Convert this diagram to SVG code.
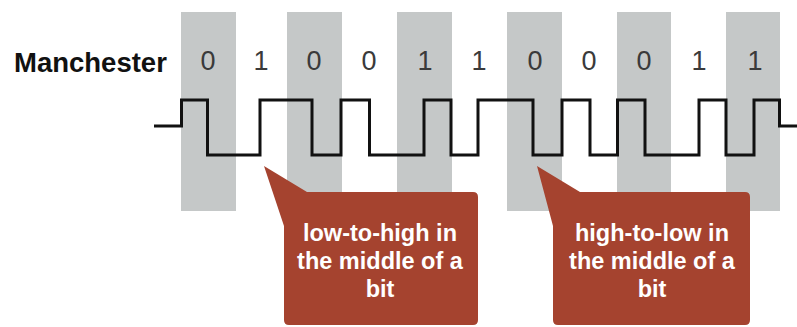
<svg xmlns="http://www.w3.org/2000/svg" width="797" height="327" viewBox="0 0 797 327">
<style>
.col{fill:#c5c8c8}
.bit{font-family:"Liberation Sans",Arial,sans-serif;font-size:27px;fill:#3a3a3a;text-anchor:middle}
.title{font-family:"Liberation Sans",Arial,sans-serif;font-size:27.5px;font-weight:bold;fill:#111}
.sig{fill:none;stroke:#111;stroke-width:3;stroke-linejoin:miter}
.callout{fill:#a5432f}
.ct{font-family:"Liberation Sans",Arial,sans-serif;font-size:23.5px;font-weight:bold;fill:#fff;text-anchor:middle}
</style>
<rect width="797" height="327" fill="#fff"/>
<g id="columns">
<rect class="col" x="181" y="12" width="55" height="199"/>
<rect class="col" x="287" y="12" width="55" height="199"/>
<rect class="col" x="397" y="12" width="55" height="199"/>
<rect class="col" x="507" y="12" width="55" height="199"/>
<rect class="col" x="617" y="12" width="54" height="199"/>
<rect class="col" x="726" y="12" width="54" height="199"/>
</g>
<g id="title"><text class="title" x="14" y="72">Manchester</text></g>
<g id="bits">
<text class="bit" x="208" y="70">0</text>
<text class="bit" x="261" y="70">1</text>
<text class="bit" x="314" y="70">0</text>
<text class="bit" x="369" y="70">0</text>
<text class="bit" x="425" y="70">1</text>
<text class="bit" x="479" y="70">1</text>
<text class="bit" x="535" y="70">0</text>
<text class="bit" x="589" y="70">0</text>
<text class="bit" x="644" y="70">0</text>
<text class="bit" x="699" y="70">1</text>
<text class="bit" x="755" y="70">1</text>
</g>
<g id="connectors">
<path class="sig" d="M154 126H181.5V100H207.5V155H260V100H312V155H341V100H369.5V155H424V100H451V155H478V100H533V155H562V100H590V155H617.5V100H645V155H699V100H726V155H754V100H779.5V126H797"/>
</g>
<g id="callout1">
<path class="callout" d="M264 166L307 192H473Q478 192 478 197V320Q478 325 473 325H289Q284 325 284 320V226Z"/>
<text class="ct" x="380" y="241">low-to-high in</text>
<text class="ct" x="380" y="269">the middle of a</text>
<text class="ct" x="380" y="297">bit</text>
</g>
<g id="callout2">
<path class="callout" d="M537 166L580 192H745Q750 192 750 197V320Q750 325 745 325H558Q553 325 553 320V226Z"/>
<text class="ct" x="652" y="241">high-to-low in</text>
<text class="ct" x="652" y="269">the middle of a</text>
<text class="ct" x="652" y="297">bit</text>
</g>
</svg>
